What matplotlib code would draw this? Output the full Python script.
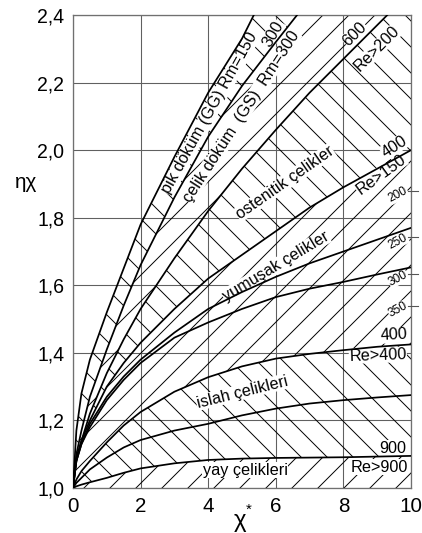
import numpy as np
import matplotlib.pyplot as plt

plt.rcParams['font.family'] = ['Liberation Sans', 'DejaVu Sans']
plt.rcParams['hatch.linewidth'] = 0.9

# egriler (okunan degerler)
chi_L1 = [0, 0.1, 0.25, 0.5, 1, 1.5, 2, 3, 4, 5, 5.35]
eta_L1 = [1.0, 1.17, 1.28, 1.38, 1.52, 1.65, 1.78, 1.98, 2.17, 2.33, 2.40]

chi_L2 = [0, 0.1, 0.25, 0.5, 1, 1.5, 2, 3, 4, 5, 6, 6.63]
eta_L2 = [1.0, 1.10, 1.17, 1.27, 1.41, 1.54, 1.66, 1.86, 2.04, 2.19, 2.32, 2.40]

chi_L3 = [0, 0.1, 0.25, 0.5, 1, 1.5, 2, 3, 4, 5, 6, 7, 8, 9, 9.3]
eta_L3 = [1.0, 1.08, 1.14, 1.22, 1.34, 1.44, 1.53, 1.68, 1.82, 1.945, 2.06, 2.17, 2.27, 2.37, 2.40]

chi = [0, 0.1, 0.25, 0.5, 1, 1.5, 2, 3, 4, 5, 6, 7, 8, 9, 10]
eta_L4 = [1.0, 1.09, 1.14, 1.20, 1.30, 1.37, 1.43, 1.53, 1.62, 1.69, 1.76, 1.83, 1.89, 1.945, 2.0]
eta_M250 = [1.0, 1.08, 1.13, 1.19, 1.27, 1.33, 1.38, 1.46, 1.53, 1.58, 1.625, 1.665, 1.70, 1.735, 1.77]
eta_M300 = [1.0, 1.08, 1.13, 1.18, 1.26, 1.32, 1.37, 1.445, 1.49, 1.53, 1.565, 1.59, 1.61, 1.632, 1.653]
eta_L5 = [1.0, 1.025, 1.05, 1.08, 1.135, 1.185, 1.225, 1.285, 1.328, 1.36, 1.383, 1.397, 1.408, 1.418, 1.425]
eta_I = [1.0, 1.015, 1.03, 1.055, 1.09, 1.12, 1.142, 1.17, 1.19, 1.215, 1.235, 1.25, 1.26, 1.268, 1.275]
eta_L6 = [1.0, 1.005, 1.01, 1.017, 1.03, 1.045, 1.058, 1.073, 1.083, 1.087, 1.089, 1.09, 1.091, 1.093, 1.095]

yticks = [1.0, 1.2, 1.4, 1.6, 1.8, 2.0, 2.2, 2.4]
ylabels = ['1,0', '1,2', '1,4', '1,6', '1,8', '2,0', '2,2', '2,4']
xticks = [0, 2, 4, 6, 8, 10]

# sag kenardaki Re degerleri
re_vals = ['200', '250', '300', '350']
re_eta = [1.880, 1.742, 1.632, 1.540]

dpi = 78
fig = plt.figure(figsize=(422 / dpi, 533 / dpi), dpi=dpi)
ax = fig.add_axes([73 / 422, 45 / 533, 338 / 422, 473 / 533])
ax.set_xlim(0, 10)
ax.set_ylim(1.0, 2.4)

g = np.linspace(0, 10, 600)
b1 = np.interp(g, chi_L1, eta_L1)
b2 = np.interp(g, chi_L2, eta_L2)
b3 = np.interp(g, chi_L3, eta_L3)
b4 = np.interp(g, chi, eta_L4)
b5 = np.interp(g, chi, eta_L5)
b6 = np.interp(g, chi, eta_L6)

bands = [(b2, b1, '\\'), (b3, b2, '/'), (b4, b3, '\\'),
         (b5, b4, '/'), (b6, b5, '\\'), (np.ones_like(g), b6, '/')]
for lo, hi, h in bands:
    ax.fill_between(g, lo, hi, facecolor='none', edgecolor='black',
                    linewidth=0, hatch=h, zorder=1)

for x, y in [(chi_L1, eta_L1), (chi_L2, eta_L2), (chi_L3, eta_L3),
             (chi, eta_L4), (chi, eta_M250), (chi, eta_M300),
             (chi, eta_L5), (chi, eta_I), (chi, eta_L6)]:
    ax.plot(x, y, color='black', lw=1.6, zorder=5)

ax.set_xticks(xticks)
ax.set_yticks(yticks)
ax.set_yticklabels(ylabels)
ax.tick_params(axis='y', length=0, pad=8, labelsize=18)
ax.tick_params(axis='x', length=0, pad=8, labelsize=19)
ax.grid(True, color='#606060', lw=1.0)
ax.set_axisbelow(True)
for s in ax.spines.values():
    s.set_color('#707070')
    s.set_linewidth(1.2)

bb = dict(facecolor='white', edgecolor='none', pad=0.3)
fs = 15


def lab(x, y, s, rot, size=fs):
    ax.text(x, y, s, rotation=rot, rotation_mode='anchor', ha='center',
            va='center', fontsize=size, bbox=bb, zorder=4)


lab(4.05, 2.11, 'pik döküm (GG) Rm=150', 61)
lab(5.92, 2.345, '300', 60)
lab(4.97, 2.10, 'çelik döküm  (GS)  Rm=300', 57)
lab(8.34, 2.344, '600', 45)
lab(9.0, 2.30, 'Re>200', 45)
lab(6.27, 1.904, 'ostenitik çelikler', 35)
lab(9.5, 2.01, '400', 33)
lab(9.11, 1.928, 'Re>150', 36)
lab(6.0, 1.656, 'yumuşak çelikler', 31)
lab(9.5, 1.452, '400', 3)
lab(9.02, 1.393, 'Re>400', 2)
lab(5.0, 1.284, 'islah çelikleri', 14)
lab(9.47, 1.118, '900', 0)
lab(9.05, 1.062, 'Re>900', 0)
lab(5.09, 1.053, 'yay çelikleri', 0)

for s, e in zip(re_vals, re_eta):
    ax.plot([9.9, 10.2], [e, e], color='#555555', lw=1.0, clip_on=False, zorder=5)
    lab(9.62, e - 0.012, s, 28, size=11)

fig.text(26 / 422, 1 - 183 / 533, 'ηχ', ha='center', va='center', fontsize=19)
fig.text(240 / 422, 1 - 521 / 533, 'χ', ha='center', va='center', fontsize=22)
fig.text(249 / 422, 1 - 510 / 533, '*', ha='center', va='center', fontsize=14)

fig.savefig('out.png', dpi=dpi)
